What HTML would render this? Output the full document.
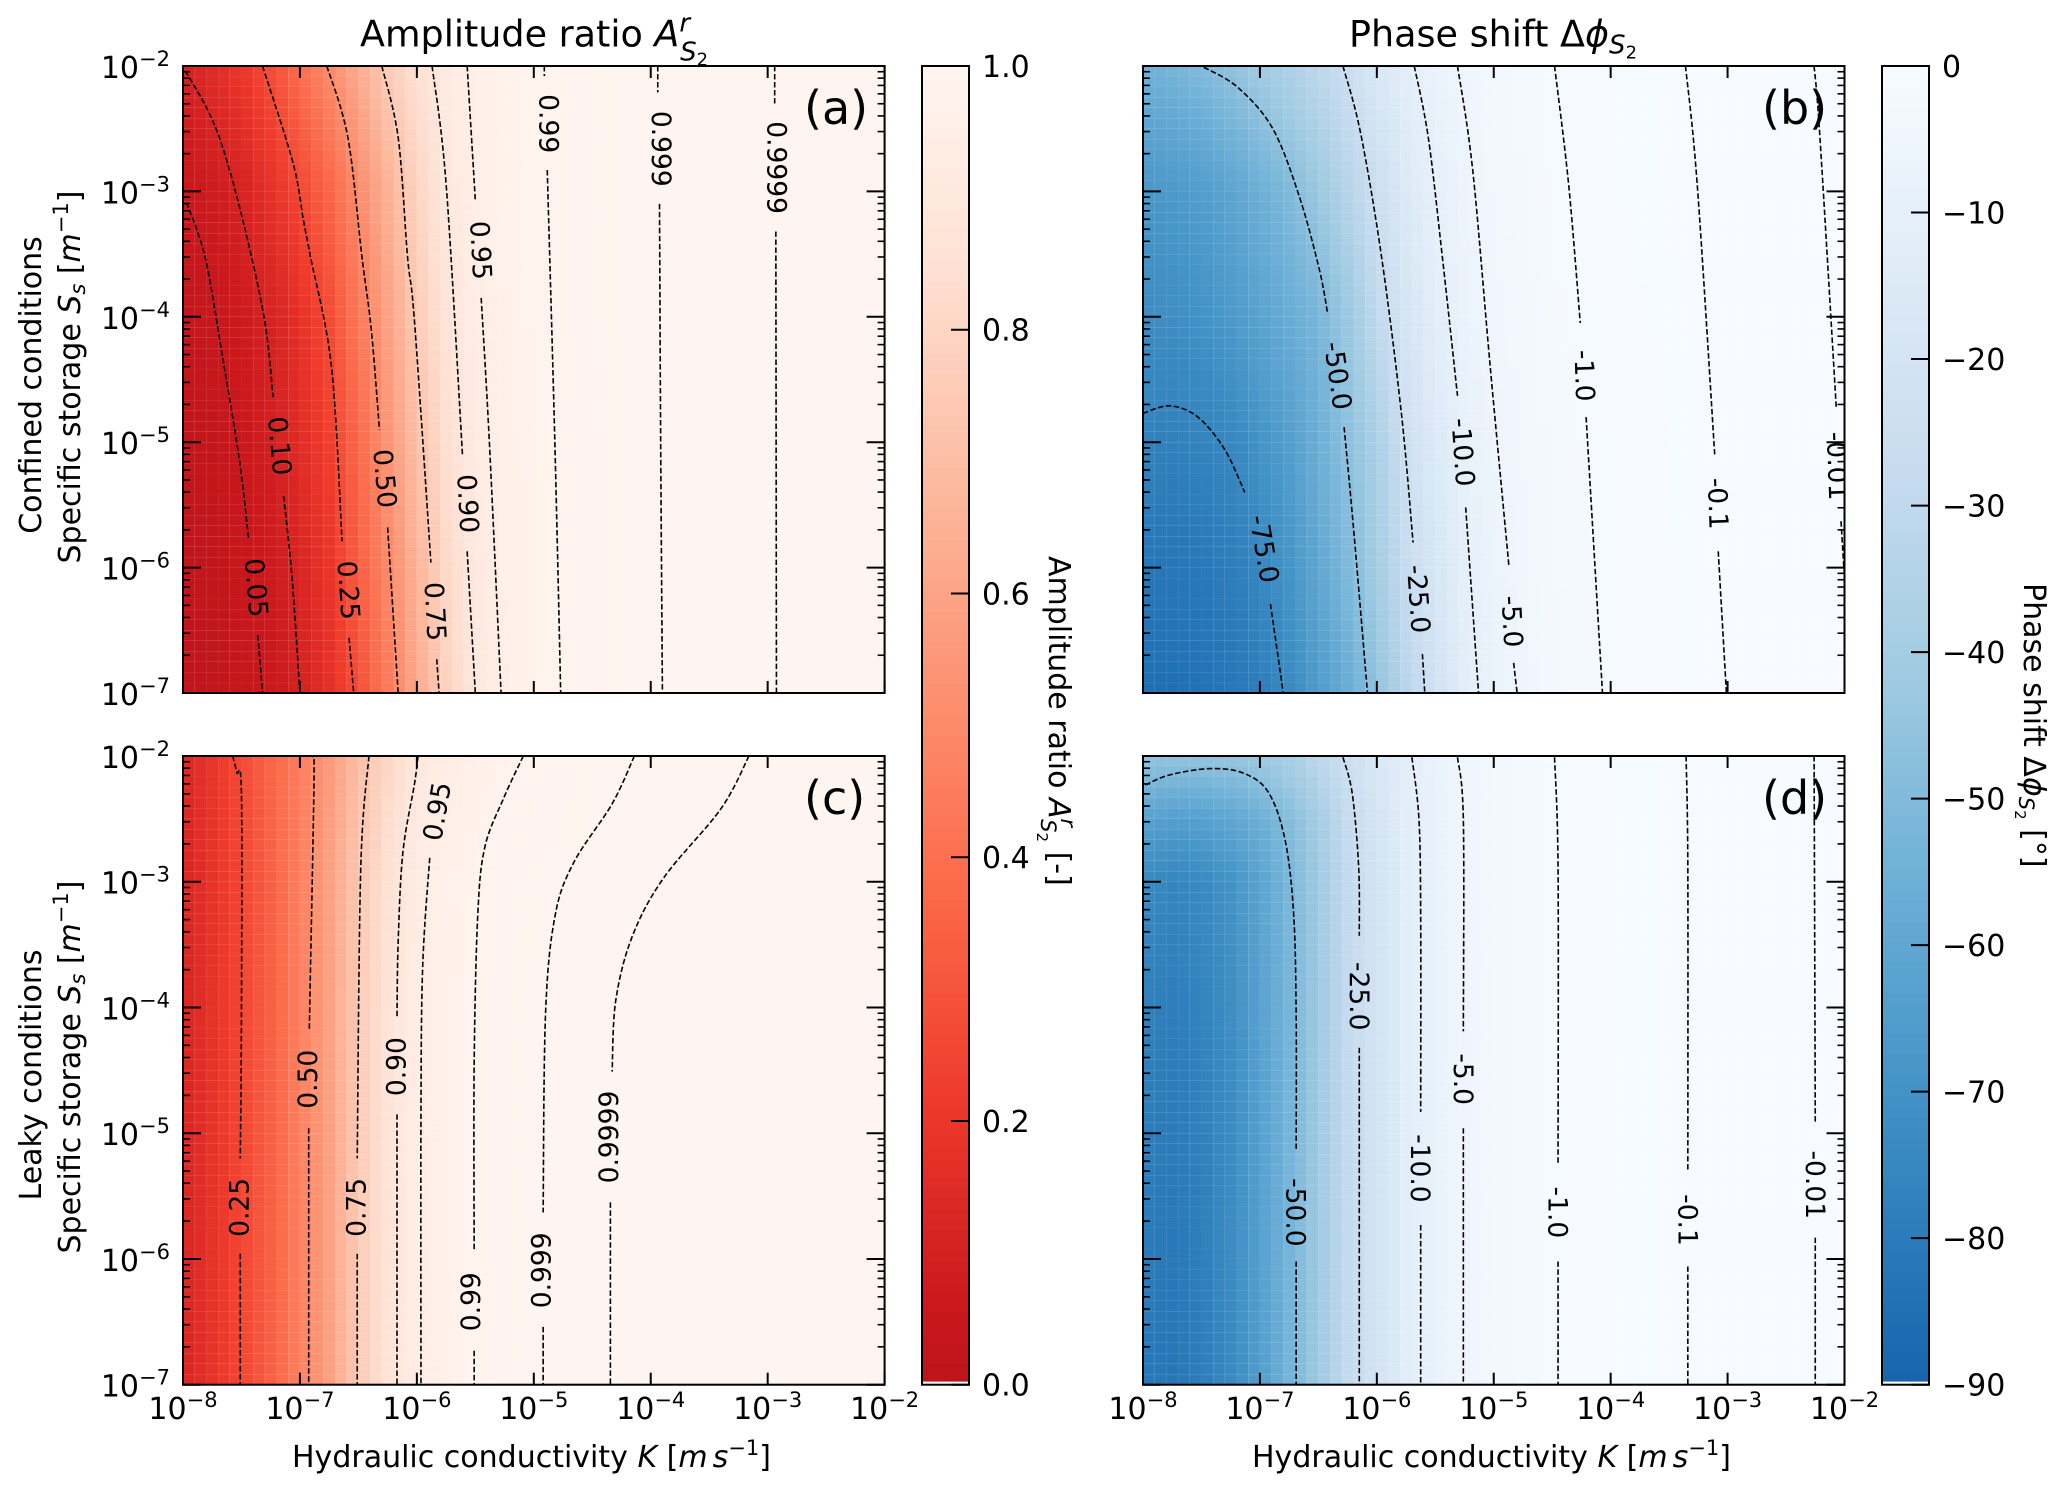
<!DOCTYPE html>
<html lang="en">
<head>
<meta charset="utf-8">
<title>Amplitude ratio and phase shift</title>
<style>
html,body{margin:0;padding:0;background:#fff;}
svg{display:block;}
text{font-family:"DejaVu Sans","Liberation Sans",sans-serif;fill:#000;}
.t-title{font-size:36.5px;}
.t-axis{font-size:30px;}
.t-letter{font-size:46px;}
.i{font-style:italic;}
</style>
</head>
<body>
<svg id="figure" xmlns="http://www.w3.org/2000/svg" width="2067" height="1492" viewBox="0 0 2067 1492">
  <rect x="0" y="0" width="2067" height="1492" fill="#fff"/>
  <defs id="clip-defs"></defs>
  <g id="panels"></g>

  <text class="t-title" x="360" y="46.5">Amplitude ratio <tspan class="i">A</tspan><tspan class="i" font-size="26" dy="-15">r</tspan><tspan class="i" font-size="26" dx="-10" dy="29">S</tspan><tspan font-size="18" dy="5">2</tspan></text>
  <text class="t-title" x="1349" y="46.5">Phase shift Δ<tspan class="i">ϕ</tspan><tspan class="i" font-size="26" dy="7">S</tspan><tspan font-size="18" dy="5">2</tspan></text>

  <text class="t-axis" text-anchor="middle" transform="translate(41 385) rotate(-90)">Confined conditions</text>
  <text class="t-axis" text-anchor="middle" transform="translate(80 377) rotate(-90)">Specific storage <tspan class="i">S</tspan><tspan class="i" font-size="21" dy="5">s</tspan><tspan dy="-5"> [</tspan><tspan class="i">m</tspan><tspan font-size="21" dy="-12">−1</tspan><tspan dy="12">]</tspan></text>
  <text class="t-axis" text-anchor="middle" transform="translate(41 1075) rotate(-90)">Leaky conditions</text>
  <text class="t-axis" text-anchor="middle" transform="translate(80 1067) rotate(-90)">Specific storage <tspan class="i">S</tspan><tspan class="i" font-size="21" dy="5">s</tspan><tspan dy="-5"> [</tspan><tspan class="i">m</tspan><tspan font-size="21" dy="-12">−1</tspan><tspan dy="12">]</tspan></text>

  <text class="t-axis" x="292" y="1467">Hydraulic conductivity <tspan class="i">K</tspan> [<tspan class="i">m</tspan><tspan class="i" dx="5">s</tspan><tspan font-size="21" dy="-12">−1</tspan><tspan dy="12">]</tspan></text>
  <text class="t-axis" x="1252" y="1467">Hydraulic conductivity <tspan class="i">K</tspan> [<tspan class="i">m</tspan><tspan class="i" dx="5">s</tspan><tspan font-size="21" dy="-12">−1</tspan><tspan dy="12">]</tspan></text>

  <text class="t-axis" transform="translate(1049 556) rotate(90)">Amplitude ratio <tspan class="i">A</tspan><tspan class="i" font-size="21" dy="-12">r</tspan><tspan class="i" font-size="21" dx="-8" dy="20">S</tspan><tspan font-size="15" dy="4">2</tspan><tspan dy="-12"> [-]</tspan></text>
  <text class="t-axis" transform="translate(2024 583) rotate(90)">Phase shift Δ<tspan class="i">ϕ</tspan><tspan class="i" font-size="21" dy="5">S</tspan><tspan font-size="15" dy="4">2</tspan><tspan dy="-9"> [°]</tspan></text>
</svg>

<script>
// ---- shared axes data ----
const logKTicks = [-8, -7, -6, -5, -4, -3, -2];
const logSTicks = [-2, -3, -4, -5, -6, -7];
const minorMultiples = [2, 3, 4, 5, 6, 7, 8, 9];
const heatLogK = [-8, -7.75, -7.5, -7.25, -7, -6.75, -6.5, -6.25, -6, -5.75, -5.5, -5.25, -5, -4.5, -4, -3, -2];
const amplitudeColorbarTicks = [0, 0.2, 0.4, 0.6, 0.8, 1];
const amplitudeColorbarLabels = ['0.0', '0.2', '0.4', '0.6', '0.8', '1.0'];
const phaseColorbarTicks = [0, -10, -20, -30, -40, -50, -60, -70, -80, -90];
const phaseColorbarLabels = ['0', '−10', '−20', '−30', '−40', '−50', '−60', '−70', '−80', '−90'];

// ---- panel (a) confined amplitude ----
const heatLogSA = [-2, -3, -4, -5, -6, -7];
const heatValuesA = [
  [.10,.15,.20,.28,.39,.51,.63,.76,.85,.92,.96,.975,.985,.996,.999,.9999,1],
  [.05,.075,.105,.175,.255,.36,.50,.65,.79,.90,.95,.975,.985,.996,.999,.9999,1],
  [.03,.045,.07,.11,.17,.27,.43,.59,.755,.87,.94,.97,.985,.996,.999,.9999,1],
  [.02,.03,.055,.09,.15,.23,.37,.54,.71,.84,.93,.965,.98,.995,.999,.9999,1],
  [.015,.025,.04,.07,.12,.19,.33,.49,.66,.81,.91,.96,.98,.995,.999,.9999,1],
  [.012,.02,.035,.06,.10,.17,.28,.44,.62,.78,.90,.955,.98,.995,.999,.9999,1]
];
const contoursA = [
  {label:'0.05', at:[-7.37,-6.16], rot:85, segs:[[[-7.97,-3.09],[-7.81,-3.53],[-7.66,-4.33],[-7.52,-5.13],[-7.44,-5.76]],[[-7.36,-6.54],[-7.32,-7]]]},
  {label:'0.10', at:[-7.17,-5.03], rot:85, segs:[[[-7.98,-2.04],[-7.79,-2.35],[-7.65,-2.68],[-7.47,-3.30],[-7.30,-4.04],[-7.23,-4.64]],[[-7.14,-5.43],[-7.07,-6.05],[-7.00,-7]]]},
  {label:'0.25', at:[-6.58,-6.18], rot:86, segs:[[[-7.32,-2],[-7.06,-2.77],[-6.97,-3.23],[-6.91,-3.52],[-6.73,-4.40],[-6.64,-5.79]],[[-6.58,-6.56],[-6.54,-7]]]},
  {label:'0.50', at:[-6.27,-5.29], rot:85, segs:[[[-6.77,-2],[-6.59,-2.57],[-6.47,-3.52],[-6.39,-4.1],[-6.32,-4.90]],[[-6.25,-5.68],[-6.16,-7]]]},
  {label:'0.75', at:[-5.84,-6.35], rot:87, segs:[[[-6.30,-2],[-6.16,-2.57],[-6.08,-3.52],[-6.02,-4.04],[-5.88,-5.96]],[[-5.83,-6.73],[-5.81,-7]]]},
  {label:'0.90', at:[-5.56,-5.49], rot:87, segs:[[[-5.87,-2],[-5.75,-2.94],[-5.61,-5.10]],[[-5.57,-5.87],[-5.50,-7]]]},
  {label:'0.95', at:[-5.45,-3.47], rot:87, segs:[[[-5.57,-2],[-5.50,-3.07]],[[-5.45,-3.85],[-5.38,-5],[-5.28,-7]]]},
  {label:'0.99', at:[-4.87,-2.46], rot:90, segs:[[[-4.91,-2],[-4.91,-2.08]],[[-4.885,-2.83],[-4.82,-5],[-4.77,-7]]]},
  {label:'0.999', at:[-3.91,-2.66], rot:90, segs:[[[-3.94,-2],[-3.94,-2.21]],[[-3.925,-3.10],[-3.915,-5],[-3.90,-7]]]},
  {label:'0.9999', at:[-2.92,-2.81], rot:90, segs:[[[-2.94,-2],[-2.94,-2.3]],[[-2.93,-3.32],[-2.925,-7]]]}
];

// ---- panel (b) confined phase ----
const heatLogSB = [-2, -3, -4, -5, -6, -7];
const heatValuesB = [
  [-55,-53,-50,-46,-41,-36,-31,-25,-17,-11.5,-7,-4.7,-3,-1,-.45,-.06,-.005],
  [-68,-67,-65,-61,-56,-50.5,-43,-34,-25,-15.5,-10,-5.8,-3.5,-1.1,-.45,-.06,-.005],
  [-73,-72,-70,-67,-62,-57,-52.5,-43,-30,-19,-12,-7,-4.5,-1.5,-.6,-.09,-.01],
  [-77,-78,-77,-75,-70,-64,-56,-47,-38,-24,-15,-9.6,-5.5,-1.9,-.75,-.11,-.009],
  [-82,-82,-81,-79,-75.5,-69,-60,-50.5,-40,-27,-18,-10.5,-6.5,-2.3,-.85,-.13,-.01],
  [-85,-85,-84,-82,-79,-74,-66,-57,-46,-33,-22,-12,-7.5,-2.6,-.95,-.1,-.012]
];
const contoursB = [
  {label:'-75.0', at:[-6.96,-5.85], rot:80, segs:[[[-8,-4.77],[-7.77,-4.71],[-7.53,-4.80],[-7.30,-5.06],[-7.13,-5.40]],[[-6.91,-6.29],[-6.80,-7]]]},
  {label:'-50.0', at:[-6.33,-4.47], rot:82, segs:[[[-7.48,-2.01],[-7.19,-2.17],[-6.89,-2.50],[-6.66,-3.05],[-6.49,-3.63],[-6.42,-3.98]],[[-6.28,-4.88],[-6.20,-5.68],[-6.08,-7]]]},
  {label:'-25.0', at:[-5.64,-6.25], rot:86, segs:[[[-6.29,-2],[-6.14,-2.53],[-5.96,-3.52],[-5.79,-4.77],[-5.69,-5.80]],[[-5.61,-6.69],[-5.59,-7]]]},
  {label:'-10.0', at:[-5.26,-5.08], rot:86, segs:[[[-5.68,-2],[-5.56,-2.57],[-5.44,-3.52],[-5.31,-4.63]],[[-5.24,-5.52],[-5.13,-7]]]},
  {label:'-5.0', at:[-4.84,-6.43], rot:87, segs:[[[-5.31,-2],[-5.18,-2.83],[-5.03,-4.40],[-4.87,-5.99]],[[-4.83,-6.76],[-4.80,-7]]]},
  {label:'-1.0', at:[-4.22,-4.47], rot:88, segs:[[[-4.48,-2],[-4.36,-2.94],[-4.26,-4.05]],[[-4.21,-4.80],[-4.07,-7]]]},
  {label:'-0.1', at:[-3.08,-5.49], rot:88, segs:[[[-3.36,-2],[-3.26,-2.94],[-3.11,-5.10]],[[-3.08,-5.87],[-3.01,-7]]]},
  {label:'-0.01', at:[-2.06,-5.19], rot:88, segs:[[[-2.26,-2],[-2.21,-2.57],[-2.07,-4.73]],[[-2.03,-5.63],[-2.0,-6.08]]]}
];

// ---- panel (c) leaky amplitude ----
const heatLogSC = [-2, -3, -4, -5, -6, -7];
const heatValuesC = [
  [.13,.19,.27,.36,.45,.56,.70,.80,.90,.94,.96,.98,.99,.997,.9995,1,1],
  [.12,.18,.255,.34,.46,.59,.74,.855,.935,.965,.985,.993,.997,.9993,.9999,1,1],
  [.12,.18,.255,.34,.46,.59,.755,.865,.94,.97,.99,.996,.999,.9998,1,1,1],
  [.12,.18,.255,.34,.46,.59,.755,.865,.94,.97,.99,.996,.999,.9998,1,1,1],
  [.12,.18,.255,.34,.46,.59,.755,.865,.94,.97,.99,.996,.999,.9998,1,1,1],
  [.12,.18,.255,.34,.46,.59,.755,.865,.94,.97,.99,.996,.999,.9998,1,1,1]
];
const contoursC = [
  {label:'0.25', at:[-7.52,-5.59], rot:-90, segs:[[[-7.575,-2],[-7.54,-2.13],[-7.50,-2.30],[-7.50,-4.06],[-7.51,-5.20]],[[-7.51,-5.96],[-7.51,-7]]]},
  {label:'0.50', at:[-6.935,-4.57], rot:-90, segs:[[[-6.89,-2],[-6.88,-2.22],[-6.92,-4.18]],[[-6.925,-4.96],[-6.925,-7]]]},
  {label:'0.75', at:[-6.52,-5.59], rot:-90, segs:[[[-6.41,-2],[-6.48,-2.89],[-6.51,-5.20]],[[-6.51,-5.96],[-6.51,-7]]]},
  {label:'0.90', at:[-6.18,-4.47], rot:-90, segs:[[[-5.99,-2],[-6.02,-2.22],[-6.12,-2.77],[-6.16,-3.48],[-6.17,-4.08]],[[-6.17,-4.85],[-6.17,-7]]]},
  {label:'0.95', at:[-5.83,-2.44], rot:-80, segs:[[[-5.89,-2.81],[-5.95,-3.67],[-5.965,-4.85],[-5.965,-7]]]},
  {label:'0.99', at:[-5.54,-6.34], rot:-90, segs:[[[-5.09,-2],[-5.26,-2.34],[-5.42,-2.73],[-5.48,-3.28],[-5.51,-4.455],[-5.51,-5.94]],[[-5.51,-6.73],[-5.51,-7]]]},
  {label:'0.999', at:[-4.94,-6.09], rot:-90, segs:[[[-4.14,-2],[-4.33,-2.38],[-4.66,-2.85],[-4.82,-3.28],[-4.90,-4.06],[-4.92,-5.63]],[[-4.92,-6.54],[-4.92,-7]]]},
  {label:'0.9999', at:[-4.36,-5.03], rot:-90, segs:[[[-3.16,-2],[-3.40,-2.42],[-3.89,-2.97],[-4.16,-3.44],[-4.30,-3.95],[-4.33,-4.51]],[[-4.345,-5.55],[-4.345,-7]]]}
];

// ---- panel (d) leaky phase ----
const heatLogSD = [-2, -2.5, -3, -4, -5, -6, -7];
const heatValuesD = [
  [-45,-45,-45,-44,-42,-38,-31,-24,-17,-11,-7.5,-4.7,-3,-1.05,-.42,-.07,-.006],
  [-62,-64,-63,-60,-56,-49,-40,-28,-20,-12,-7.7,-4.8,-3,-1.1,-.43,-.07,-.006],
  [-74,-76,-74,-70,-62,-52,-42,-29,-21,-12.5,-7.8,-4.9,-3,-1.1,-.43,-.07,-.006],
  [-78,-79,-77,-72,-63,-53,-42,-29,-21,-12.5,-7.8,-4.9,-3,-1.1,-.43,-.07,-.006],
  [-79,-80,-78,-73,-64,-53,-42,-29,-21,-12.5,-7.8,-4.9,-3,-1.1,-.43,-.07,-.006],
  [-80,-81,-79,-73,-64,-53,-42,-29,-21,-12.5,-7.8,-4.9,-3,-1.1,-.43,-.07,-.006],
  [-81,-82,-79,-74,-65,-53,-42,-29,-21,-12.5,-7.8,-4.9,-3,-1.1,-.43,-.07,-.006]
];
const contoursD = [
  {label:'-50.0', at:[-6.69,-5.63], rot:90, segs:[[[-7.98,-2.23],[-7.77,-2.15],[-7.42,-2.10],[-7.13,-2.14],[-6.92,-2.30],[-6.78,-2.69],[-6.71,-3.28],[-6.69,-4.06],[-6.69,-5.13]],[[-6.69,-6.02],[-6.69,-7]]]},
  {label:'-25.0', at:[-6.15,-3.91], rot:90, segs:[[[-6.29,-2.01],[-6.21,-2.30],[-6.155,-2.89],[-6.15,-3.43]],[[-6.15,-4.32],[-6.15,-7]]]},
  {label:'-10.0', at:[-5.625,-5.28], rot:90, segs:[[[-5.70,-2.01],[-5.64,-2.50],[-5.625,-3.28],[-5.625,-4.83]],[[-5.625,-5.73],[-5.625,-7]]]},
  {label:'-5.0', at:[-5.26,-4.57], rot:90, segs:[[[-5.31,-2.01],[-5.26,-2.50],[-5.26,-4.19]],[[-5.26,-4.96],[-5.26,-7]]]},
  {label:'-1.0', at:[-4.45,-5.63], rot:90, segs:[[[-4.48,-2.01],[-4.45,-2.89],[-4.45,-5.24]],[[-4.45,-6.02],[-4.45,-7]]]},
  {label:'-0.1', at:[-3.34,-5.69], rot:90, segs:[[[-3.355,-2],[-3.34,-2.89],[-3.34,-5.30]],[[-3.34,-6.06],[-3.34,-7]]]},
  {label:'-0.01', at:[-2.25,-5.41], rot:90, segs:[[[-2.26,-2],[-2.25,-4.92]],[[-2.25,-5.83],[-2.25,-7]]]}
];

// ---- colormaps ----
const redStops = ['#fff5f0','#fee0d2','#fcbba1','#fc9272','#fb6a4a','#ef3b2c','#cb181d','#a50f15','#67000d'];
const blueStops = ['#f7fbff','#deebf7','#c6dbef','#9ecae1','#6baed6','#4292c6','#2171b5','#08519c','#08306b'];

function hexToRgb(h){return [parseInt(h.substr(1,2),16),parseInt(h.substr(3,2),16),parseInt(h.substr(5,2),16)];}
function rampColor(stops,t){
  const p=Math.max(0,Math.min(1,t))*(stops.length-1);
  const i=Math.min(stops.length-2,Math.floor(p));
  const f=p-i;
  const a=hexToRgb(stops[i]),b=hexToRgb(stops[i+1]);
  return 'rgb('+Math.round(a[0]+(b[0]-a[0])*f)+','+Math.round(a[1]+(b[1]-a[1])*f)+','+Math.round(a[2]+(b[2]-a[2])*f)+')';
}
function amplitudeColor(v){return rampColor(redStops,(1-v)*0.8);}
function phaseColor(v){return rampColor(blueStops,(-v/90)*0.8);}

const NS='http://www.w3.org/2000/svg';
function mk(tag,parent,attrs){
  const el=document.createElementNS(NS,tag);
  for(const k in attrs){el.setAttribute(k,attrs[k]);}
  parent.appendChild(el);
  return el;
}
function makeX(L,R){return function(logK){return L+(logK+8)/6*(R-L);};}
function makeY(T,B){return function(logS){return T+(-2-logS)/5*(B-T);};}
function bracket(arr,v){
  const s=arr[1]>arr[0]?1:-1;
  let i=0;
  while(i<arr.length-2 && s*v>s*arr[i+1]){i++;}
  return i;
}
function sampleGrid(cols,rows,vals,k,s){
  const i=bracket(cols,k),j=bracket(rows,s);
  const fx=(k-cols[i])/(cols[i+1]-cols[i]);
  const fy=(s-rows[j])/(rows[j+1]-rows[j]);
  const top=vals[j][i]+(vals[j][i+1]-vals[j][i])*fx;
  const bot=vals[j+1][i]+(vals[j+1][i+1]-vals[j+1][i])*fx;
  return top+(bot-top)*fy;
}
function smoothPath(pts){
  let d='M'+pts[0][0].toFixed(2)+' '+pts[0][1].toFixed(2);
  for(let i=0;i<pts.length-1;i++){
    const p0=pts[Math.max(0,i-1)],p1=pts[i],p2=pts[i+1],p3=pts[Math.min(pts.length-1,i+2)];
    const c1x=p1[0]+(p2[0]-p0[0])/6,c1y=p1[1]+(p2[1]-p0[1])/6;
    const c2x=p2[0]-(p3[0]-p1[0])/6,c2y=p2[1]-(p3[1]-p1[1])/6;
    d+=' C'+c1x.toFixed(2)+' '+c1y.toFixed(2)+' '+c2x.toFixed(2)+' '+c2y.toFixed(2)+' '+p2[0].toFixed(2)+' '+p2[1].toFixed(2);
  }
  return d;
}
function powerLabel(parent,x,y,anchor,exp){
  const t=mk('text',parent,{x:x,y:y,'text-anchor':anchor,'font-size':'30'});
  t.appendChild(document.createTextNode('10'));
  const s=mk('tspan',t,{'font-size':'21',dy:'-12'});
  s.textContent='−'+Math.abs(exp);
  return t;
}

const panelsRoot=document.getElementById('panels');
const clipDefs=document.getElementById('clip-defs');
const CELLS_X=60,CELLS_Y=60;

function drawPanel(cfg){
  const g=mk('g',panelsRoot,{});
  
  
  const x=makeX(cfg.L,cfg.R),y=makeY(cfg.T,cfg.B);
  const clip=mk('clipPath',clipDefs,{id:'clip-'+cfg.id});
  mk('rect',clip,{x:cfg.L,y:cfg.T,width:cfg.R-cfg.L,height:cfg.B-cfg.T});

  const heat=mk('g',g,{});
  
  
  for(let j=0;j<CELLS_Y;j++){
    for(let i=0;i<CELLS_X;i++){
      const k0=-8+i*6/CELLS_X,k1=-8+(i+1)*6/CELLS_X;
      const s0=-2-j*5/CELLS_Y,s1=-2-(j+1)*5/CELLS_Y;
      const v=sampleGrid(heatLogK,cfg.rows,cfg.vals,(k0+k1)/2,(s0+s1)/2);
      const cell=mk('rect',heat,{x:x(k0).toFixed(2),y:y(s0).toFixed(2),width:(x(k1)-x(k0)).toFixed(2),height:(y(s1)-y(s0)).toFixed(2),fill:cfg.color(v)});
      
      
    }
  }

  const cg=mk('g',g,{'clip-path':'url(#clip-'+cfg.id+')'});
  
  
  cfg.contours.forEach(function(c){
    c.segs.forEach(function(seg){
      const pts=seg.map(function(p){return [x(p[0]),y(p[1])];});
      const path=mk('path',cg,{d:smoothPath(pts),fill:'none',stroke:'#000','stroke-width':'1.6','stroke-dasharray':'5.5 2.5'});
      
      
    });
    const lx=x(c.at[0]),ly=y(c.at[1]);
    const lab=mk('text',cg,{x:lx.toFixed(1),y:ly.toFixed(1),dy:'0.36em','text-anchor':'middle','font-size':'26.5',transform:'rotate('+c.rot+' '+lx.toFixed(1)+' '+ly.toFixed(1)+')'});
    lab.textContent=c.label;
    
    
  });

  const ticks=mk('g',g,{stroke:'#000','stroke-width':'2'});
  
  
  logKTicks.forEach(function(k){
    const px=x(k);
    mk('line',ticks,{x1:px,x2:px,y1:cfg.B,y2:cfg.B-12});
    mk('line',ticks,{x1:px,x2:px,y1:cfg.T,y2:cfg.T+12});
  });
  logSTicks.forEach(function(s){
    const py=y(s);
    mk('line',ticks,{x1:cfg.L,x2:cfg.L+18,y1:py,y2:py});
    mk('line',ticks,{x1:cfg.R,x2:cfg.R-18,y1:py,y2:py});
  });
  logSTicks.slice(1).forEach(function(s){
    minorMultiples.forEach(function(m){
      const py=y(s+Math.log10(m));
      mk('line',ticks,{x1:cfg.L,x2:cfg.L+7,y1:py,y2:py,'stroke-width':'1.6'});
      mk('line',ticks,{x1:cfg.R,x2:cfg.R-7,y1:py,y2:py,'stroke-width':'1.6'});
    });
  });

  if(cfg.showY){
    logSTicks.forEach(function(s){
      const t=powerLabel(g,170,y(s)+12,'end',s);
      
      
    });
  }
  if(cfg.showX){
    logKTicks.forEach(function(k){
      const t=powerLabel(g,x(k),1419,'middle',k);
      
      
    });
  }

  const frame=mk('rect',g,{x:cfg.L,y:cfg.T,width:cfg.R-cfg.L,height:cfg.B-cfg.T,fill:'none',stroke:'#000','stroke-width':'2'});
  
  

  const letter=mk('text',g,{x:cfg.letterX,y:cfg.letterY,class:'t-letter'});
  letter.textContent='('+cfg.id+')';
  
  
}

function drawColorbar(cfg){
  const g=mk('g',panelsRoot,{});
  
  
  const T=66,B=1384.7;
  const yOf=function(v){return T+(cfg.max-v)/(cfg.max-cfg.min)*(B-T);};
  const N=128;
  for(let i=0;i<N;i++){
    const v0=cfg.max-(cfg.max-cfg.min)*i/N;
    const v1=cfg.max-(cfg.max-cfg.min)*(i+1)/N;
    const y0=yOf(v0);
    const y1=Math.min(yOf(v1),B-3.5);
    const step=mk('rect',g,{x:cfg.L,y:y0.toFixed(2),width:cfg.R-cfg.L,height:(y1-y0+0.6).toFixed(2),fill:cfg.color((v0+v1)/2)});
    
    
  }
  const wipe=mk('rect',g,{x:cfg.L,y:B-3,width:cfg.R-cfg.L,height:3,fill:'#fff'});
  
  
  cfg.ticks.forEach(function(v,i){
    const py=yOf(v);
    const tick=mk('line',g,{x1:cfg.R,x2:cfg.R-18,y1:py,y2:py,stroke:'#000','stroke-width':'2'});
    
    
    const lab=mk('text',g,{x:cfg.R+13,y:py+11,'font-size':'30'});
    lab.textContent=cfg.labels[i];
    
    
  });
  const frame=mk('rect',g,{x:cfg.L,y:T,width:cfg.R-cfg.L,height:B-T,fill:'none',stroke:'#000','stroke-width':'2'});
  
  
}

drawPanel({id:'a',L:183,R:884.6,T:66,B:693,rows:heatLogSA,vals:heatValuesA,contours:contoursA,color:amplitudeColor,showY:true,showX:false,letterX:804,letterY:124});
drawPanel({id:'b',L:1143,R:1844.5,T:66,B:693,rows:heatLogSB,vals:heatValuesB,contours:contoursB,color:phaseColor,showY:false,showX:false,letterX:1762,letterY:124});
drawPanel({id:'c',L:183,R:884.6,T:756,B:1384.7,rows:heatLogSC,vals:heatValuesC,contours:contoursC,color:amplitudeColor,showY:true,showX:true,letterX:804,letterY:814});
drawPanel({id:'d',L:1143,R:1844.5,T:756,B:1384.7,rows:heatLogSD,vals:heatValuesD,contours:contoursD,color:phaseColor,showY:false,showX:true,letterX:1762,letterY:814});
drawColorbar({id:'amplitude',L:922,R:969,min:0,max:1,ticks:amplitudeColorbarTicks,labels:amplitudeColorbarLabels,color:amplitudeColor});
drawColorbar({id:'phase',L:1882,R:1929,min:-90,max:0,ticks:phaseColorbarTicks,labels:phaseColorbarLabels,color:phaseColor});
</script>
</body>
</html>
